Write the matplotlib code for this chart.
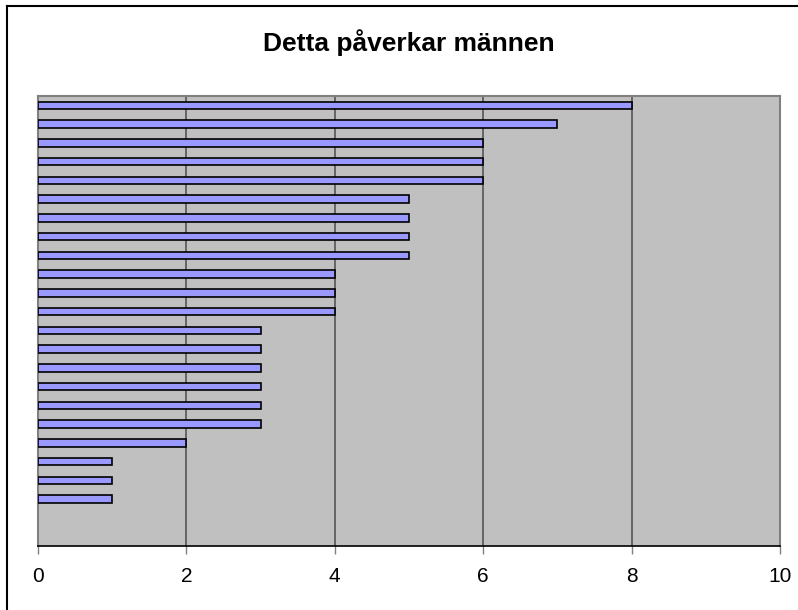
import matplotlib
matplotlib.use("Agg")
import matplotlib.pyplot as plt
from matplotlib.lines import Line2D

# värden uppifrån och ned (två tomma kategorier längst ned)
values = [8, 7, 6, 6, 6, 5, 5, 5, 5, 4, 4, 4, 3, 3, 3, 3, 3, 3, 2, 1, 1, 1, 0, 0]
xticks = [0, 2, 4, 6, 8, 10]
title = "Detta påverkar männen"

plt.rcParams['font.family'] = ['Liberation Sans', 'DejaVu Sans']

fig = plt.figure(figsize=(7.98, 6.10), dpi=100)
ax = fig.add_axes([38 / 798, 1 - 546 / 610, (780 - 38) / 798, (546 - 96) / 610])

n = len(values)
pos = list(range(n))
widths = [1.2 if v > 0 else 0 for v in values]
ax.barh(pos, values, height=0.4, color='#9999FF', edgecolor='black', linewidth=widths, zorder=3)

ax.set_facecolor('#C0C0C0')
ax.set_xlim(0, 10)
ax.set_ylim(n - 0.5, -0.5)
ax.set_xticks(xticks)
ax.set_xticklabels([str(t) for t in xticks], fontsize=15)
ax.set_yticks([])
ax.tick_params(axis='x', direction='out', length=6, width=1, color='#808080', pad=9)
for t in xticks[1:-1]:
    ax.axvline(t, color='#555555', linewidth=1.2, zorder=1)

for s in ['top', 'right', 'left']:
    ax.spines[s].set_color('#808080')
    ax.spines[s].set_linewidth(1.5)
ax.spines['bottom'].set_color('black')
ax.spines['bottom'].set_linewidth(1.2)

fig.text(409 / 798, 1 - 43 / 610, title, ha='center', va='center', fontsize=19, fontweight='bold')

# ram runt diagrammet (vänster och övre kant syns)
fig.add_artist(Line2D([7 / 798, 7 / 798], [0, 1 - 6 / 610], color='black', linewidth=1.5))
fig.add_artist(Line2D([7 / 798, 1], [1 - 6 / 610, 1 - 6 / 610], color='black', linewidth=1.5))

fig.savefig('out.png', dpi=100)
